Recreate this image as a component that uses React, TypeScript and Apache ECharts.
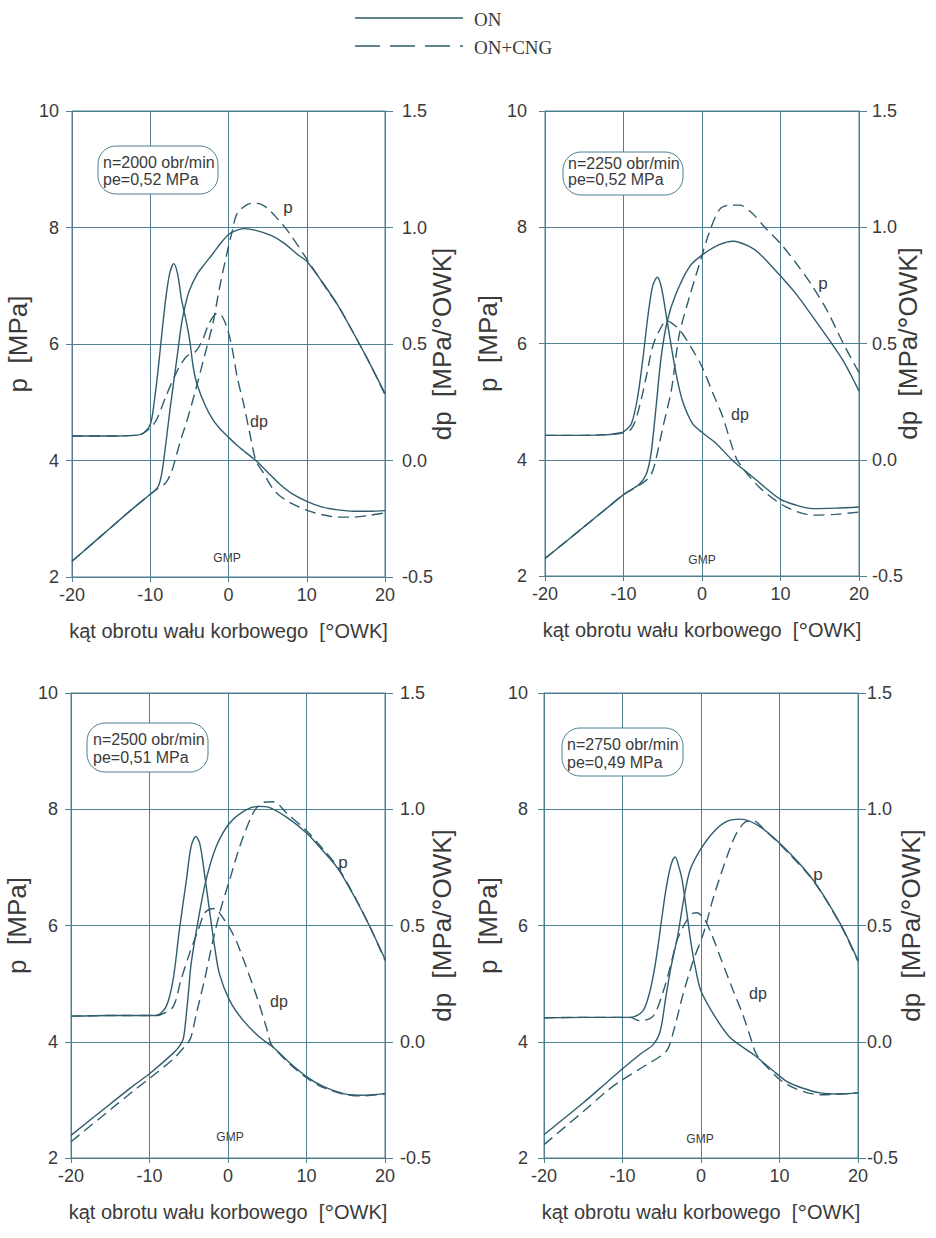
import React, { useEffect, useRef } from "react";
import * as echarts from "echarts";

type Pt = [number, number];

// ---------- DATA ----------
const legendLabels = ["ON", "ON+CNG"];
const speedLabels = ["n=2000 obr/min", "n=2250 obr/min", "n=2500 obr/min", "n=2750 obr/min"];
const loadLabels = ["pe=0,52 MPa", "pe=0,52 MPa", "pe=0,51 MPa", "pe=0,49 MPa"];
const xTitle = "kąt obrotu wału korbowego  [{deg|°}OWK]";
const leftTitle = "p  [MPa]";
const rightTitle = "dp  [MPa/{deg|°}OWK]";

// Panel 1: n=2000
const p1PressON: Pt[] = [[-20,2.27],[-17,2.62],[-14,2.97],[-12,3.2],[-10,3.42],[-9,3.55],[-8.5,3.8],[-8,4.3],[-7.5,4.85],[-7,5.35],[-6.5,5.85],[-6,6.35],[-5.5,6.68],[-5,6.92],[-4,7.2],[-3,7.38],[-2,7.55],[-1,7.73],[0,7.88],[1,7.95],[2,7.98],[3.5,7.95],[5.5,7.86],[7,7.74],[9,7.52],[10,7.42],[12,7.06],[14,6.66],[16,6.18],[18,5.68],[20,5.15]];
const p1PressCNG: Pt[] = [[-20,2.27],[-17,2.62],[-14,2.97],[-12,3.2],[-10,3.42],[-9,3.52],[-8,3.62],[-7.3,3.8],[-6.7,4.07],[-6,4.4],[-5.4,4.64],[-4.2,5.21],[-3.1,5.78],[-2,6.35],[-1.2,6.93],[-0.3,7.5],[0.5,7.95],[1.1,8.24],[2.5,8.4],[3.5,8.42],[4.8,8.35],[6.4,8.13],[7.8,7.9],[10,7.46],[12.5,6.95],[14,6.66],[16,6.18],[18,5.68],[20,5.13]];
const p1DpON: Pt[] = [[-20,0.105],[-15,0.105],[-12,0.108],[-11,0.115],[-10,0.155],[-9.5,0.25],[-9,0.388],[-8.5,0.55],[-8,0.7],[-7.5,0.805],[-7,0.845],[-6.5,0.8],[-6,0.69],[-5.5,0.613],[-5,0.525],[-4.5,0.4],[-4,0.325],[-3,0.238],[-2,0.175],[-1,0.133],[0,0.1],[1,0.068],[2,0.04],[3.5,0],[5,-0.05],[6.5,-0.1],[8,-0.14],[10,-0.175],[12,-0.2],[14,-0.212],[16,-0.218],[18,-0.218],[20,-0.215]];
const p1DpCNG: Pt[] = [[-20,0.105],[-15,0.105],[-12,0.108],[-11,0.115],[-10,0.14],[-9.2,0.175],[-8,0.275],[-6.7,0.375],[-5.4,0.445],[-4.2,0.468],[-3.3,0.518],[-2.5,0.588],[-1.4,0.633],[-0.8,0.618],[-0.1,0.56],[0.5,0.475],[1.1,0.36],[2,0.233],[2.8,0.103],[3.5,0],[4.5,-0.055],[5.5,-0.113],[6.5,-0.15],[8,-0.183],[10,-0.213],[12,-0.233],[14,-0.243],[16,-0.243],[18,-0.235],[20,-0.225]];

// Panel 2: n=2250
const p2PressON: Pt[] = [[-20,2.3],[-15,2.85],[-12,3.18],[-10,3.4],[-8,3.58],[-7.1,3.75],[-6.5,4.1],[-5.85,4.91],[-5.2,5.77],[-4.4,6.4],[-3.3,6.86],[-1.6,7.32],[0,7.52],[2.2,7.7],[4,7.76],[6,7.67],[7.3,7.55],[10,7.16],[12,6.85],[14,6.48],[16,6.1],[18,5.7],[20,5.18]];
const p2PressCNG: Pt[] = [[-20,2.3],[-15,2.85],[-12,3.18],[-10,3.4],[-8,3.56],[-7,3.66],[-6.3,3.8],[-5.85,4.02],[-5,4.55],[-3.9,5.2],[-2.9,6.15],[-1.6,6.8],[-0.3,7.38],[0.9,7.9],[2.2,8.3],[3.5,8.38],[4.8,8.38],[6.4,8.24],[8,8.0],[10,7.72],[12,7.38],[14,7.0],[16,6.55],[18,6.0],[20,5.5]];
const p2DpON: Pt[] = [[-20,0.105],[-15,0.105],[-12,0.108],[-10.5,0.115],[-10,0.12],[-9,0.155],[-8.2,0.27],[-7.5,0.443],[-6.9,0.615],[-6.3,0.745],[-5.7,0.785],[-5.2,0.745],[-4.6,0.63],[-3.9,0.485],[-3.3,0.37],[-2.5,0.255],[-1.2,0.155],[0,0.118],[1.8,0.07],[3.9,-0.003],[6.5,-0.075],[9.9,-0.168],[12,-0.195],[14.1,-0.21],[17,-0.208],[20,-0.203]];
const p2DpCNG: Pt[] = [[-20,0.105],[-15,0.105],[-10.5,0.113],[-9,0.133],[-8,0.225],[-7.1,0.358],[-6.3,0.485],[-5.4,0.558],[-4.5,0.598],[-3.3,0.573],[-2.5,0.543],[-1.2,0.473],[0,0.4],[1.4,0.285],[2.6,0.188],[3.9,0.05],[4.6,-0.008],[7.3,-0.118],[10.7,-0.203],[14.1,-0.238],[17,-0.235],[20,-0.225]];

// Panel 3: n=2500
const p3PressON: Pt[] = [[-20,2.39],[-15,2.93],[-12,3.25],[-10,3.45],[-7,3.8],[-6.2,3.92],[-5.7,4.05],[-5.4,4.35],[-5,4.9],[-4.7,5.34],[-3.8,6.09],[-2.8,6.78],[-1.5,7.36],[0.2,7.76],[2.3,7.99],[4,8.05],[5,8.04],[7.5,7.86],[10,7.59],[12,7.3],[14,6.98],[16,6.52],[18,6.0],[20,5.42]];
const p3PressCNG: Pt[] = [[-20,2.28],[-15,2.83],[-12,3.16],[-10,3.37],[-7,3.7],[-5.5,3.92],[-4.8,4.05],[-4.4,4.25],[-4,4.5],[-3,5.06],[-1.9,5.75],[-0.85,6.32],[0.2,6.78],[1.5,7.36],[2.8,7.82],[3.6,8.02],[4.6,8.12],[5.8,8.13],[7.5,7.93],[10,7.63],[12,7.33],[14,7.0],[16,6.53],[18,6.0],[20,5.4]];
const p3DpON: Pt[] = [[-20,0.11],[-15,0.113],[-12,0.113],[-9.2,0.113],[-7.9,0.15],[-7,0.265],[-6.2,0.48],[-5.3,0.695],[-4.7,0.84],[-4.1,0.883],[-3.6,0.853],[-3,0.725],[-2.3,0.55],[-1.7,0.408],[-1.1,0.293],[0.2,0.178],[1.9,0.093],[4,0.02],[5.8,-0.025],[8,-0.095],[10,-0.15],[12,-0.19],[14.7,-0.223],[17,-0.23],[20,-0.223]];
const p3DpCNG: Pt[] = [[-20,0.11],[-15,0.113],[-9.2,0.113],[-8.7,0.115],[-7,0.15],[-6,0.265],[-4.9,0.38],[-3.8,0.48],[-3,0.553],[-2.3,0.57],[-1.5,0.573],[-1,0.55],[0.2,0.49],[1.1,0.43],[1.9,0.36],[3.6,0.2],[4.9,0.06],[5.5,-0.01],[6.5,-0.05],[8,-0.1],[10,-0.155],[12,-0.195],[14.7,-0.225],[17,-0.233],[20,-0.225]];

// Panel 4: n=2750
const p4PressON: Pt[] = [[-20,2.4],[-15,2.95],[-12,3.3],[-10.3,3.5],[-7.8,3.78],[-6.1,3.95],[-5.2,4.18],[-4.5,4.75],[-3.8,5.3],[-3,5.8],[-2.2,6.45],[-1.4,6.95],[-0.1,7.3],[1.6,7.61],[3.3,7.79],[5,7.83],[7.5,7.7],[10.9,7.3],[14.3,6.78],[17.7,6.04],[20,5.4]];
const p4PressCNG: Pt[] = [[-20,2.23],[-15,2.8],[-12,3.15],[-10.3,3.32],[-7,3.6],[-4.4,3.84],[-3.5,4.18],[-2.3,4.81],[-1,5.39],[0.3,5.86],[1.6,6.49],[3.3,7.18],[4.5,7.58],[5.8,7.79],[6.7,7.8],[8,7.66],[10.9,7.28],[14.3,6.77],[17.7,6.03],[20,5.38]];
const p4DpON: Pt[] = [[-20,0.103],[-15,0.105],[-12,0.105],[-9,0.105],[-7.4,0.133],[-6.5,0.218],[-5.9,0.318],[-5.4,0.43],[-5,0.53],[-4.4,0.668],[-3.8,0.763],[-3.3,0.795],[-2.8,0.75],[-2.4,0.695],[-1.8,0.553],[-1.2,0.408],[-0.55,0.29],[0,0.218],[1.6,0.118],[3.7,0.018],[6.7,-0.055],[9.2,-0.125],[10.9,-0.17],[13,-0.2],[15.2,-0.22],[17.5,-0.225],[20,-0.22]];
const p4DpCNG: Pt[] = [[-20,0.103],[-15,0.105],[-9,0.105],[-7.8,0.09],[-6.1,0.11],[-4.8,0.218],[-3.95,0.318],[-3.1,0.433],[-2.7,0.465],[-1.8,0.523],[-1,0.553],[-0.5,0.555],[0.5,0.523],[1.5,0.45],[2.5,0.36],[4.1,0.22],[5.4,0.11],[6.45,0.003],[7,-0.05],[8,-0.095],[10.9,-0.183],[15.2,-0.228],[20,-0.22]];

const panelSeries = [
  { pOn: p1PressON, pCng: p1PressCNG, dpOn: p1DpON, dpCng: p1DpCNG },
  { pOn: p2PressON, pCng: p2PressCNG, dpOn: p2DpON, dpCng: p2DpCNG },
  { pOn: p3PressON, pCng: p3PressCNG, dpOn: p3DpON, dpCng: p3DpCNG },
  { pOn: p4PressON, pCng: p4PressCNG, dpOn: p4DpON, dpCng: p4DpCNG },
];

// ---------- LAYOUT / STYLE ----------
const CURVE = "#2f5d6e";
const GRID = "#4f7f90";
const TEXT = "#3a3a3a";
const SANS = "'Liberation Sans', Arial, Helvetica, sans-serif";
const SERIF = "'Liberation Serif', 'Times New Roman', serif";
const DASH = [11, 6];
const Y_TITLE_SIZE = 26;

const layout = [
  { left: 72, top: 111, width: 313, height: 466, lGap: 41, rGap: 42, lMargin: 13, rMargin: 17,
    box: [98, 146, 120, 48], txt: [103, 162, 179], pLab: [288, 207], dpLab: [259, 421], gmp: [227, 558] },
  { left: 545, top: 111, width: 314, height: 465, lGap: 44, rGap: 34, lMargin: 18, rMargin: 13,
    box: [563, 152, 120, 43], txt: [568, 163, 179], pLab: [823, 283], dpLab: [740, 414], gmp: [702, 560] },
  { left: 71, top: 693, width: 314, height: 465, lGap: 41, rGap: 42, lMargin: 13, rMargin: 15,
    box: [87, 723, 121, 49], txt: [93, 739, 757], pLab: [343, 862], dpLab: [279, 1001], gmp: [230, 1137] },
  { left: 544, top: 693, width: 314, height: 465, lGap: 43, rGap: 38, lMargin: 16, rMargin: 9,
    box: [562, 728, 121, 48], txt: [567, 744, 762], pLab: [818, 874], dpLab: [758, 993], gmp: [700, 1139] },
];

function App() {
  const ref = useRef<HTMLDivElement>(null);
  useEffect(() => {
    if (!ref.current) return;
    const chart = echarts.init(ref.current, null, { renderer: "svg" });

    const nameStyle = (size: number) => ({
      fontSize: size,
      color: TEXT,
      fontFamily: SANS,
      rich: { deg: { fontSize: size + 4, color: TEXT, fontFamily: SANS } },
    });

    const grids = layout.map((l) => ({
      left: l.left, top: l.top, width: l.width, height: l.height,
      show: true, borderColor: GRID, borderWidth: 1, backgroundColor: "transparent",
      containLabel: false, outerBoundsMode: "none",
    }));

    const xAxes = layout.map((l, i) => ({
      type: "value", gridIndex: i, min: -20, max: 20, interval: 10,
      name: xTitle, nameLocation: "middle", nameGap: 42, nameMoveOverlap: false,
      nameTextStyle: nameStyle(20),
      axisLine: { show: true, onZero: false, lineStyle: { color: GRID, width: 1 } },
      axisTick: { show: true, length: 5, lineStyle: { color: GRID } },
      axisLabel: { fontSize: 18, color: TEXT, fontFamily: SANS, margin: 9 },
      splitLine: { show: true, lineStyle: { color: GRID, width: 1 } },
    }));

    const yAxes: any[] = [];
    layout.forEach((l, i) => {
      yAxes.push({
        type: "value", gridIndex: i, position: "left", min: 2, max: 10, interval: 2,
        name: leftTitle, nameLocation: "middle", nameGap: l.lGap, nameRotate: 90, nameMoveOverlap: false,
        nameTextStyle: nameStyle(Y_TITLE_SIZE),
        axisLine: { show: true, onZero: false, lineStyle: { color: GRID, width: 1 } },
        axisTick: { show: true, length: 6, lineStyle: { color: GRID } },
        axisLabel: { fontSize: 18, color: TEXT, fontFamily: SANS, margin: l.lMargin },
        splitLine: { show: true, lineStyle: { color: GRID, width: 1 } },
      });
      yAxes.push({
        type: "value", gridIndex: i, position: "right", min: -0.5, max: 1.5, interval: 0.5,
        name: rightTitle, nameLocation: "middle", nameGap: l.rGap, nameRotate: 90, nameMoveOverlap: false,
        nameTextStyle: nameStyle(Y_TITLE_SIZE),
        axisLine: { show: true, onZero: false, lineStyle: { color: GRID, width: 1 } },
        axisTick: { show: true, length: 8, lineStyle: { color: GRID } },
        axisLabel: {
          fontSize: 18, color: TEXT, fontFamily: SANS, margin: l.rMargin,
          formatter: (v: number) => v.toFixed(1),
        },
        splitLine: { show: false },
      });
    });

    const mk = (name: string, data: Pt[], xi: number, yi: number, dashed: boolean) => ({
      type: "line", name, data, xAxisIndex: xi, yAxisIndex: yi,
      showSymbol: false, symbol: "none", smooth: 0.3, clip: true,
      lineStyle: { color: CURVE, width: 1.4, type: dashed ? DASH : "solid" },
      emphasis: { disabled: true }, silent: true,
    });

    const series: any[] = [];
    panelSeries.forEach((d, i) => {
      series.push(mk(`p ${legendLabels[0]}`, d.pOn, i, 2 * i, false));
      series.push(mk(`p ${legendLabels[1]}`, d.pCng, i, 2 * i, true));
      series.push(mk(`dp ${legendLabels[0]}`, d.dpOn, i, 2 * i + 1, false));
      series.push(mk(`dp ${legendLabels[1]}`, d.dpCng, i, 2 * i + 1, true));
    });

    const txt = (text: string, x: number, y: number, size: number, align = "center", font = SANS) => ({
      type: "text", x, y, silent: true,
      style: {
        text, fill: TEXT, fontSize: size, fontFamily: font,
        align, verticalAlign: "middle", textAlign: align, textVerticalAlign: "middle",
      },
    });

    const graphics: any[] = [
      { type: "line", shape: { x1: 355, y1: 18, x2: 463, y2: 18 }, style: { stroke: CURVE, lineWidth: 1.4 } },
      txt(legendLabels[0], 474, 19, 19, "left", SERIF),
      { type: "line", shape: { x1: 355, y1: 46, x2: 463, y2: 46 }, style: { stroke: CURVE, lineWidth: 1.4, lineDash: [25, 10] } },
      txt(legendLabels[1], 474, 47, 19, "left", SERIF),
    ];
    layout.forEach((l, i) => {
      const [bx, by, bw, bh] = l.box;
      graphics.push({
        type: "rect", shape: { x: bx, y: by, width: bw, height: bh, r: 18 },
        style: { fill: "#fff", stroke: GRID, lineWidth: 1 }, z: 10,
      });
      graphics.push({ ...txt(speedLabels[i], l.txt[0], l.txt[1], 16, "left"), z: 11 });
      graphics.push({ ...txt(loadLabels[i], l.txt[0], l.txt[2], 16, "left"), z: 11 });
      graphics.push(txt("p", l.pLab[0], l.pLab[1], 17));
      graphics.push(txt("dp", l.dpLab[0], l.dpLab[1], 16));
      graphics.push(txt("GMP", l.gmp[0], l.gmp[1], 12));
    });

    chart.setOption({
      animation: false,
      backgroundColor: "#ffffff",
      grid: grids,
      xAxis: xAxes,
      yAxis: yAxes,
      series,
      graphic: graphics,
    });
    return () => chart.dispose();
  }, []);

  return (
    <div
      ref={ref}
      style={{ position: "absolute", left: 0, top: 0, width: 936, height: 1238, background: "#fff" }}
    />
  );
}

export default App;
